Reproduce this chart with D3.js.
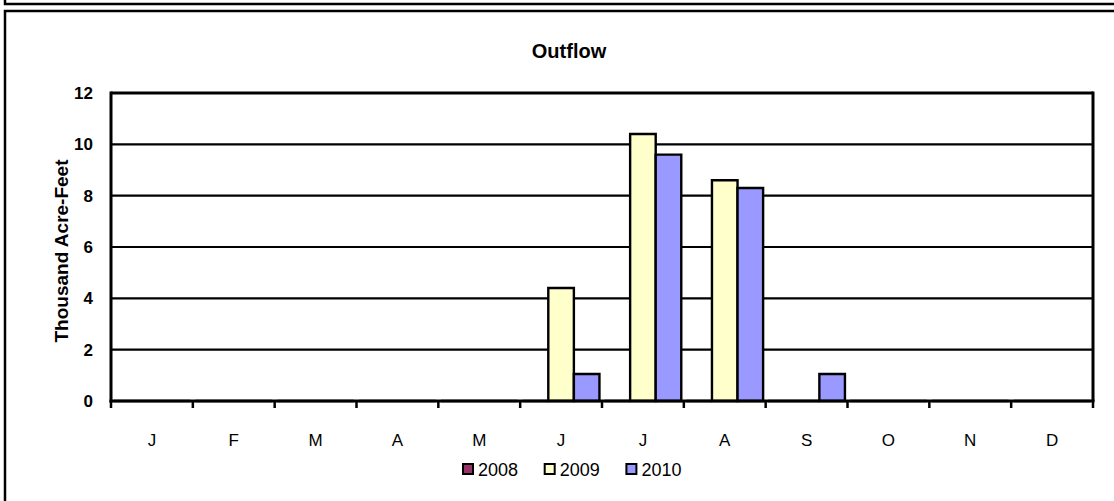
<!DOCTYPE html>
<html>
<head>
<meta charset="utf-8">
<script src="https://cdn.jsdelivr.net/npm/d3@7"></script>
<style>
  html, body { margin: 0; padding: 0; background: #fff; }
  svg { display: block; font-family: Arial, "Liberation Sans", sans-serif; }
</style>
</head>
<body>
<svg id="chart" width="1114" height="501"></svg>
<script>
// Monthly outflow, thousand acre-feet
const months = ["J", "F", "M", "A", "M", "J", "J", "A", "S", "O", "N", "D"];
const seriesNames = ["2008", "2009", "2010"];
const values2008 = [0, 0, 0, 0, 0, 0, 0, 0, 0, 0, 0, 0];
const values2009 = [0, 0, 0, 0, 0, 4.4, 10.4, 8.6, 0, 0, 0, 0];
const values2010 = [0, 0, 0, 0, 0, 1.05, 9.6, 8.3, 1.05, 0, 0, 0];
const seriesColors = ["#993366", "#FFFFCC", "#9999FF"];
const yTicks = [0, 2, 4, 6, 8, 10, 12];

const series = [values2008, values2009, values2010];

const svg = d3.select("#chart");
const plot = { left: 111, right: 1093, top: 93, bottom: 401 };

// Outer frames
svg.append("rect").attr("x", 5).attr("y", -40).attr("width", 1130).attr("height", 44)
  .attr("fill", "none").attr("stroke", "#000").attr("stroke-width", 2.5);
svg.append("rect").attr("x", 5).attr("y", 11).attr("width", 1130).attr("height", 520)
  .attr("fill", "#fff").attr("stroke", "#000").attr("stroke-width", 2.5);

const x = d3.scaleBand().domain(d3.range(months.length))
  .range([plot.left, plot.right]).paddingInner(0).paddingOuter(0);
const xs = d3.scaleBand().domain(seriesNames)
  .range([0, x.bandwidth()]).paddingInner(0).paddingOuter(0.1);
const y = d3.scaleLinear().domain([0, 12]).range([plot.bottom, plot.top]);

// Title
svg.append("text").attr("x", 569).attr("y", 58).attr("text-anchor", "middle")
  .attr("font-weight", "bold").attr("font-size", 20).text("Outflow");

// Value axis labels
const yAxis = d3.axisLeft(y).tickValues(yTicks).tickSize(0).tickPadding(18)
  .tickFormat(d3.format("d"));
const gy = svg.append("g").attr("transform", `translate(${plot.left},0)`).call(yAxis);
gy.select(".domain").remove();
gy.selectAll("text").attr("font-size", 17).attr("font-weight", "bold")
  .attr("font-family", "Arial, 'Liberation Sans', sans-serif").attr("fill", "#000");

// Gridlines
svg.append("g").selectAll("line").data(yTicks.filter(d => d > 0)).join("line")
  .attr("x1", plot.left).attr("x2", plot.right)
  .attr("y1", d => y(d)).attr("y2", d => y(d))
  .attr("stroke", "#000").attr("stroke-width", d => d === 12 ? 3 : 2.2);

// Right border of plot area
svg.append("line").attr("x1", plot.right).attr("x2", plot.right)
  .attr("y1", plot.top - 1.5).attr("y2", plot.bottom)
  .attr("stroke", "#000").attr("stroke-width", 3);

// Bars (paths so zero-height bars still show their outline)
const barG = svg.append("g");
series.forEach((vals, si) => {
  barG.append("g").selectAll("path").data(vals).join("path")
    .attr("d", (v, i) => {
      const x0 = x(i) + xs(seriesNames[si]);
      const w = xs.bandwidth();
      const y0 = y(0), y1 = y(v);
      return `M${x0},${y0}V${y1}H${x0 + w}V${y0}Z`;
    })
    .attr("fill", seriesColors[si])
    .attr("stroke", "#000").attr("stroke-width", 2.4)
    .attr("stroke-linejoin", "miter");
});

// Axis lines
svg.append("line").attr("x1", plot.left).attr("x2", plot.left)
  .attr("y1", plot.top - 1.5).attr("y2", plot.bottom + 1.5)
  .attr("stroke", "#000").attr("stroke-width", 3);

const xAxis = d3.axisBottom(x).tickSize(0).tickPadding(33).tickFormat(i => months[i]);
const gx = svg.append("g").attr("transform", `translate(0,${plot.bottom})`).call(xAxis);
gx.select(".domain").remove();
gx.selectAll("text").attr("font-size", 17).attr("fill", "#000")
  .attr("font-family", "Arial, 'Liberation Sans', sans-serif");

svg.append("line").attr("x1", plot.left - 1.5).attr("x2", plot.right + 1.5)
  .attr("y1", plot.bottom).attr("y2", plot.bottom)
  .attr("stroke", "#000").attr("stroke-width", 3);

// Category boundary tick marks
svg.append("g").selectAll("line").data(d3.range(months.length + 1)).join("line")
  .attr("x1", i => i < months.length ? x(i) : plot.right)
  .attr("x2", i => i < months.length ? x(i) : plot.right)
  .attr("y1", plot.bottom).attr("y2", plot.bottom + 7)
  .attr("stroke", "#000").attr("stroke-width", 2.5);

// Y axis title
svg.append("text")
  .attr("transform", `translate(68,${(plot.top + plot.bottom) / 2 + 4}) rotate(-90)`)
  .attr("text-anchor", "middle").attr("font-weight", "bold").attr("font-size", 19)
  .text("Thousand Acre-Feet");

// Legend
const legend = svg.append("g").attr("transform", "translate(463,464)");
const item = legend.selectAll("g").data(seriesNames).join("g")
  .attr("transform", (d, i) => `translate(${i * 81.7},0)`);
item.append("rect").attr("x", 0).attr("y", 0).attr("width", 10).attr("height", 10)
  .attr("fill", (d, i) => seriesColors[i]).attr("stroke", "#000").attr("stroke-width", 2);
item.append("text").attr("x", 15).attr("y", 12).attr("font-size", 18)
  .text(d => d);
</script>
</body>
</html>
